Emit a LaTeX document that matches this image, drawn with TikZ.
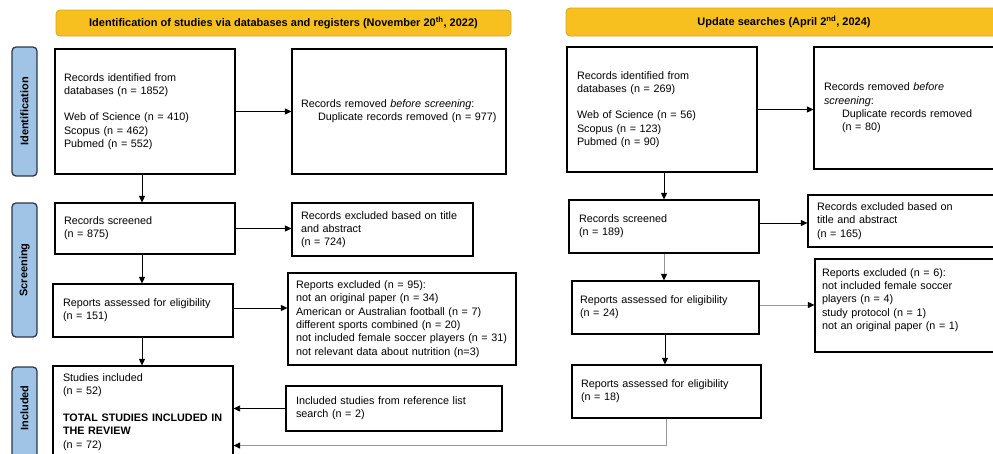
\documentclass[tikz,border=0pt]{standalone}
\usepackage{fontspec}
\setmainfont{Liberation Sans}
\usetikzlibrary{arrows.meta,calc}
\definecolor{gold}{RGB}{248,192,30}
\definecolor{goldline}{RGB}{215,165,40}
\definecolor{sideblue}{RGB}{160,196,230}
\definecolor{sideline}{RGB}{45,55,75}
\definecolor{connGray}{RGB}{150,150,150}
\begin{document}
\begin{tikzpicture}[x=1pt,y=1pt,
  box/.style={draw=black, line width=1.1pt, rectangle, align=left,
    font=\fontsize{10.8}{13.3}\selectfont, inner ysep=2pt},
  hdr/.style={draw=goldline, fill=gold, rounded corners=4pt, line width=0.8pt,
    font=\fontsize{11}{13}\selectfont\bfseries},
  side/.style={draw=sideline, fill=sideblue, rounded corners=4pt, line width=1.3pt,
    minimum width=25pt, inner sep=0pt},
  sidetxt/.style={rotate=90, font=\fontsize{11}{13}\selectfont\bfseries, inner sep=0pt},
  arr/.style={draw=black, line width=0.8pt, -{Triangle[length=6.5pt,width=6pt]}},
  garr/.style={draw=connGray, line width=0.9pt, -{Triangle[length=6.5pt,width=6pt,color=black]}},
]
\useasboundingbox (0,0) rectangle (993,-453);
\clip (0,0) rectangle (993,-453);

% headers
\node[hdr, minimum width=455pt, minimum height=26pt] (h1) at (283.5,-23)
  {Identification of studies via databases and registers (November 20\textsuperscript{th}, 2022)};
\node[hdr, minimum width=436pt, minimum height=28pt] (h2) at (784,-22)
  {Update searches (April 2\textsuperscript{nd}, 2024)};

% side labels
\node[side, minimum height=129pt] (sid) at (24.5,-111.5) {};
\node[sidetxt] (sidtxt) at (sid.center) {Identification};
\node[side, minimum height=134pt] (ssc) at (24.5,-270) {};
\node[sidetxt] (ssctxt) at (ssc.center) {Screening};
\node[side, minimum height=103pt] (sin) at (24.5,-418.5) {};
\node[sidetxt] (sintxt) at (24.5,-408) {Included};

% left column
\node[box, minimum width=180pt, minimum height=125pt, text width=162pt, inner xsep=9pt] (A1) at (145,-111.5)
  {Records identified from\\databases (n = 1852)\\[13.3pt]Web of Science (n = 410)\\Scopus (n = 462)\\Pubmed (n = 552)};
\node[box, minimum width=214pt, minimum height=125pt, text width=196pt, inner xsep=9pt] (A2) at (399,-111.5)
  {Records removed \textit{before screening}:\\\hspace*{17pt}Duplicate records removed (n = 977)};
\node[box, minimum width=180pt, minimum height=51pt, text width=162pt, inner xsep=9pt] (B1) at (145,-228.5)
  {Records screened\\(n = 875)};
\node[box, minimum width=181pt, minimum height=53pt, text width=163pt, inner xsep=9pt] (B2) at (382.5,-229.5)
  {Records excluded based on title\\and abstract\\(n = 724)};
\node[box, minimum width=180pt, minimum height=53pt, text width=160pt, inner xsep=10pt] (C1) at (143,-310.5)
  {Reports assessed for eligibility\\(n = 151)};
\node[box, minimum width=228pt, minimum height=92pt, text width=212pt, inner xsep=8pt] (C2) at (402,-319)
  {Reports excluded (n = 95):\\not an original paper (n = 34)\\American or Australian football (n = 7)\\different sports combined (n = 20)\\not included female soccer players (n = 31)\\not relevant data about nutrition (n=3)};
\node[box, minimum width=180pt, minimum height=92pt, text width=160pt, inner xsep=10pt] (D1) at (143,-412)
  {Studies included\\(n = 52)\\[13.3pt]\textbf{TOTAL STUDIES INCLUDED IN}\\\textbf{THE REVIEW}\\(n = 72)};
\node[box, minimum width=216pt, minimum height=45pt, text width=196pt, inner xsep=10pt] (D2) at (394,-408.5)
  {Included studies from reference list\\search (n = 2)};

% right column
\node[box, minimum width=190pt, minimum height=125pt, text width=170pt, inner xsep=10pt] (E1) at (662,-109.5)
  {Records identified from\\databases (n = 269)\\[13.3pt]Web of Science (n = 56)\\Scopus (n = 123)\\Pubmed (n = 90)};
\node[box, minimum width=196pt, minimum height=122pt, text width=176pt, inner xsep=10pt] (E2) at (912,-108)
  {Records removed \textit{before}\\\textit{screening}:\\\hspace*{18pt}Duplicate records removed\\\hspace*{18pt}(n = 80)};
\node[box, minimum width=190pt, minimum height=53pt, text width=170pt, inner xsep=10pt] (F1) at (664,-226.5)
  {Records screened\\(n = 189)};
\node[box, minimum width=202pt, minimum height=52pt, text width=184pt, inner xsep=9pt] (F2) at (909,-221)
  {Records excluded based on\\title and abstract\\(n = 165)};
\node[box, minimum width=187pt, minimum height=53pt, text width=171pt, inner xsep=8pt] (G1) at (665.5,-307.5)
  {Reports assessed for eligibility\\(n = 24)};
\node[box, minimum width=195pt, minimum height=93pt, text width=181pt, inner xsep=7pt] (G2) at (912.5,-305.5)
  {Reports excluded (n = 6):\\not included female soccer\\players (n = 4)\\study protocol (n = 1)\\not an original paper (n = 1)\\\mbox{}};
\node[box, minimum width=189pt, minimum height=53pt, text width=171pt, inner xsep=9pt] (H1) at (666.5,-391.5)
  {Reports assessed for eligibility\\(n = 18)};

% connector start points
\coordinate (a1s) at ($(A1.south)+(-3,0)$);
\coordinate (b1s) at ($(B1.south)+(-3,0)$);
\coordinate (c1e) at ($(C1.east)+(0,2.5)$);
\coordinate (c1s) at ($(C1.south)+(-1,0)$);
\coordinate (e1s) at ($(E1.south)+(2,0)$);
\coordinate (f1e) at ($(F1.east)+(0,3.5)$);
\coordinate (g1e) at ($(G1.east)+(0,2.5)$);
\coordinate (g1s) at ($(G1.south)+(-0.5,0)$);
\coordinate (h1s) at ($(H1.south)+(-0.5,0)$);
\coordinate (bend) at ($(H1.south)+(-0.5,-27)$);

% connectors left
\draw[arr] (A1.east) -- (A1.east -| A2.west);
\draw[arr] (a1s) -- (a1s |- B1.north);
\draw[arr] (B1.east) -- (B1.east -| B2.west);
\draw[arr] (b1s) -- (b1s |- C1.north);
\draw[arr] (c1e) -- (c1e -| C2.west);
\draw[arr] (c1s) -- (c1s |- D1.north);
\draw[arr] (D2.west) -- (D2.west -| D1.east);

% connectors right
\draw[arr] (E1.east) -- (E1.east -| E2.west);
\draw[arr] (e1s) -- (e1s |- F1.north);
\draw[arr] (f1e) -- (f1e -| F2.west);
\draw[garr] (F1.south) -- (F1.south |- G1.north);
\draw[garr] (g1e) -- (g1e -| G2.west);
\draw[arr] (g1s) -- (g1s |- H1.north);
\draw[garr] (h1s) -- (bend) -- (bend -| D1.east);
\end{tikzpicture}
\end{document}
